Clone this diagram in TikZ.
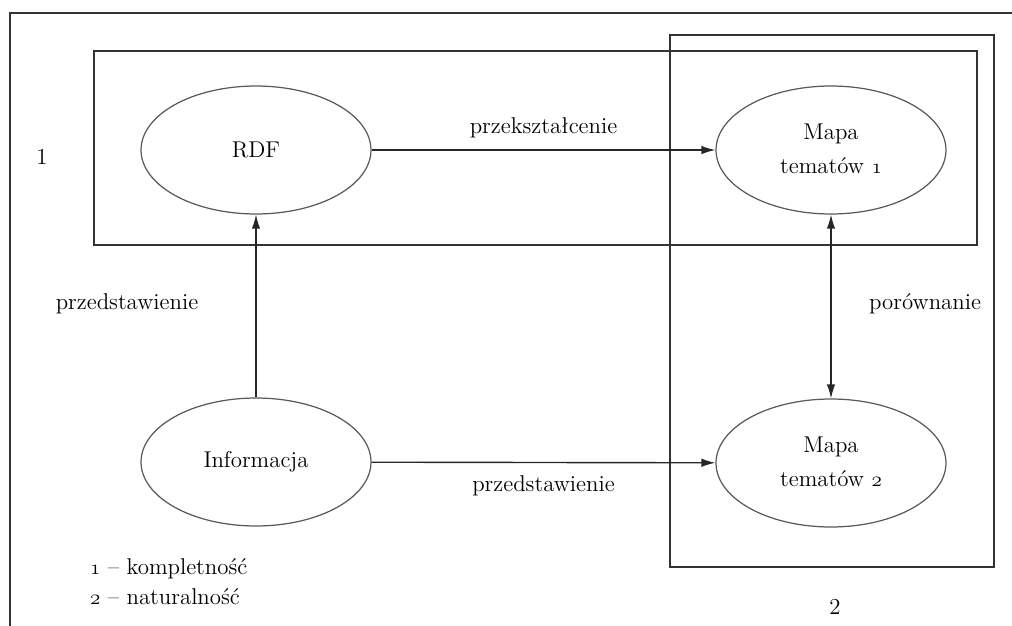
\documentclass[tikz,border=0pt]{standalone}
\usepackage{fontspec}
\usetikzlibrary{shapes,arrows.meta}
\newcommand\osnum[1]{{\usefont{OML}{cmm}{m}{it}#1}}

\begin{document}
\begin{tikzpicture}[x=0.02cm,y=-0.02cm]
      \tikzstyle{every node}=[font=\fontsize{13}{19}\selectfont]
      \tikzstyle{oval}=[ellipse,draw=black!65,line width=0.7pt,minimum width=4.6cm,minimum height=2.56cm,inner sep=0pt,align=center]
      \tikzstyle{frame}=[draw=black!80,line width=0.7pt]
      \tikzstyle{link}=[draw=black!85,line width=0.8pt,-{Latex[length=2.8mm,width=1.7mm]}]
      \useasboundingbox (0,0) rectangle (1012,626);
      % frame of the page
      \draw[frame] (10,626) -- (10,13) -- (1012,13);
      % the two groups
      \draw[frame] (94,51) rectangle (977,245);
      \draw[frame] (670,35) rectangle (994,567);
      \node (one) at (42,157) {1};
      \node (two) at (835,607) {2};
      % the four ovals
      \node[oval] (rdf) at (256,150) {RDF};
      \node[oval] (map1) at (831,150) {\raisebox{4pt}{\begin{tabular}{@{}c@{}}Mapa\\tematów \osnum{1}\end{tabular}}};
      \node[oval] (info) at (256,462) {Informacja};
      \node[oval] (map2) at (831,463) {\raisebox{4pt}{\begin{tabular}{@{}c@{}}Mapa\\tematów \osnum{2}\end{tabular}}};
      % connectors
      \draw[link] (rdf) -- node[above=3pt] {przekształcenie} (map1);
      \draw[link] (info) -- node[below=4pt] {przedstawienie} (map2);
      \draw[link] (info) -- (rdf);
      \draw[link,{Latex[length=2.8mm,width=1.7mm]}-{Latex[length=2.8mm,width=1.7mm]}] (map1) -- (map2);
      \node (lrep) at (127,304) {przedstawienie};
      \node (lcmp) at (925,304) {porównanie};
      % legend
      \node[anchor=west] (leg1) at (84,569) {\osnum{1} -- kompletność};
      \node[anchor=west] (leg2) at (84,597) {\osnum{2} -- naturalność};
\end{tikzpicture}
\end{document}
